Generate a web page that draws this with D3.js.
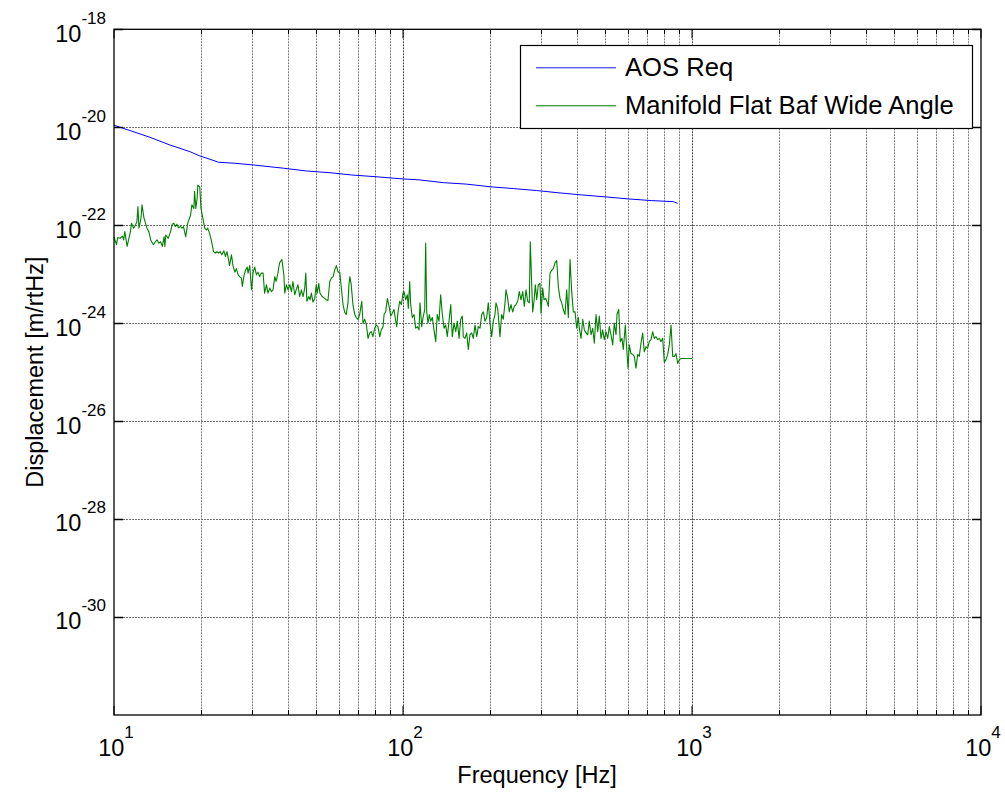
<!DOCTYPE html>
<html>
<head>
<meta charset="utf-8">
<script src="https://cdn.jsdelivr.net/npm/d3@7"></script>
<style>
  html, body { margin: 0; padding: 0; background: #fff; }
  svg { display: block; font-family: "Liberation Sans", Arial, sans-serif; }
</style>
</head>
<body>
<svg id="chart" width="1005" height="799"></svg>
<script>
// Axis ranges and tick labels
const xDomain = [10, 10000];
const yDomain = [1e-32, 1e-18];
const xMajorTicks = [10, 100, 1000, 10000];
const xTickExponents = ["1", "2", "3", "4"];
const yMajorTicks = [1e-18, 1e-20, 1e-22, 1e-24, 1e-26, 1e-28, 1e-30];
const yTickExponents = ["-18", "-20", "-22", "-24", "-26", "-28", "-30"];

const seriesNames = ["AOS Req", "Manifold Flat Baf Wide Angle"];

// AOS requirement curve
const reqFreq = [10, 11.4, 13.3, 15.6, 18.3, 19.8, 21.5, 23.0, 26.2, 30.3, 38.5, 46.4, 55.9, 66.4, 80.0,
  97.6, 114.5, 137.8, 166.1, 200, 240.9, 290.2, 344.7, 415.3, 500, 602, 725.5, 861.6, 892.4];
const reqValue = [1.1e-20, 8.5e-21, 6.25e-21, 4.35e-21, 3.18e-21, 2.6e-21, 2.22e-21, 1.93e-21, 1.84e-21,
  1.70e-21, 1.46e-21, 1.28e-21, 1.18e-21, 1.06e-21, 9.8e-22, 8.9e-22, 8.4e-22, 7.4e-22, 6.9e-22, 6.1e-22,
  5.6e-22, 5.1e-22, 4.6e-22, 4.15e-22, 3.8e-22, 3.44e-22, 3.18e-22, 3.03e-22, 2.8e-22];

// Measured spectrum: manifold flat baffle, wide angle
const bafFreq = [
  10, 10.2, 10.3, 10.5, 10.7, 10.8, 10.9, 11.1, 11.4, 11.5, 11.7, 11.9, 12.0, 12.1, 12.2, 12.4, 12.5, 12.7,
  12.8, 13.0, 13.2, 13.4, 13.5, 13.7, 13.9, 14.1, 14.3, 14.5, 14.7, 14.9, 15.0, 15.1, 15.4, 15.7, 15.9, 16.1,
  16.3, 16.5, 16.7, 17.0, 17.2, 17.4, 17.7, 18.0, 18.4, 18.6, 18.9, 19.0, 19.2, 19.4, 19.5, 19.8, 20.0, 20.3,
  20.6, 20.9, 21.1, 21.4, 21.7, 22.1, 22.4, 22.7, 23.0, 23.3, 23.6, 24.0, 24.3, 24.6, 24.9,
  25.1, 25.5, 25.8, 26.2, 26.5, 26.9, 27.2, 27.6, 27.8, 28.2, 28.5, 28.9, 29.1, 29.5, 29.9, 30.3, 30.7, 31.1,
  31.5, 31.9, 32.3, 32.8, 33.2, 33.7, 34.1, 34.6, 35.0, 35.5, 36.0, 36.4, 36.9, 37.4, 38.1, 38.7, 39.0, 39.5,
  40.0, 40.6, 41.1, 41.6, 42.2, 42.7, 43.3, 43.9, 44.5, 45.1, 45.7, 46.1, 46.5, 47.2, 47.7, 48.2, 48.8, 49.5,
  50.1, 50.5, 51.1, 51.6, 52.5, 53.6, 54.3, 55.0, 55.8, 56.5, 57.3, 58.0, 58.8, 59.6, 60.4, 61.2, 62.0, 62.8,
  63.6, 64.5,
  65.0, 65.5, 66.2, 67.1, 68.1, 68.9, 69.9, 70.8, 72.0, 72.7, 73.7, 74.7, 75.7, 76.7, 77.7, 78.7, 79.8, 80.8,
  81.9, 83.1, 84.1, 85.3, 86.0, 87.1, 88.3, 89.5, 90.7, 91.8, 93.1, 94.4, 95.1, 96.1, 97.4, 98.7, 100, 100.8,
  102.2, 103.5, 104.3, 105.5, 106.3, 107.7, 109.2, 110.6, 112.1, 113.6, 114.5, 116.1, 117.3, 118.9, 119.8,
  120.8, 122.0, 123.3, 124.7, 126.3, 128.0, 129.8, 131.4, 133.2, 135.0, 136.8, 138.7, 140.5, 142.3, 144.3,
  146.3, 148.1, 150.2, 152.2, 154.2, 156.3, 158.4, 160.4,
  161.7, 163.9, 166.1, 168.3, 170.5, 172.9, 175.1, 177.5, 179.9, 182.2, 184.7, 187.2, 189.6, 192.2, 194.8,
  197.3, 200.0, 202.7, 205.3, 208.1, 209.8, 212.6, 214.8, 216.5, 219.5, 222.3, 225.4, 227.2, 230.3, 233.2,
  236.4, 239.6, 242.7, 246.0, 249.4, 252.6, 256.0, 259.6, 262.9, 266.5, 270.1, 273.5, 275.7, 278.8, 281.1,
  284.0, 287.0, 290.2, 293.9, 297.9, 300.3, 304.4, 307.6, 311.8, 315.8, 318.3, 322.7, 327.1, 331.3, 335.7,
  340.3, 344.7, 349.4, 354.1, 358.7, 363.6, 368.5, 373.3, 378.4, 383.5, 388.5, 393.8, 399.1, 404.3,
  407.4, 413.0, 418.7, 424.0, 429.8, 435.7, 441.2, 447.3, 453.4, 459.2, 465.5, 471.8, 477.8, 484.3, 490.9,
  497.1, 504.0, 510.8, 517.4, 524.4, 531.6, 538.3, 545.8, 550.2, 557.7, 564.8, 572.5, 578.5, 587.8, 594.3,
  600.5, 606.7, 615.0, 623.4, 631.4, 640.0, 648.7, 657.0, 666.0, 675.1, 683.7, 693.0, 702.5, 711.5, 721.2,
  731.1, 740.4, 750.5, 760.8, 770.6, 781.1, 791.8, 802.0, 812.8, 824.0, 834.7, 846.0, 857.6, 868.7, 880.4,
  892.4, 903.9, 916.2, 1000];
const bafValue = [
  5.8e-23, 4.0e-23, 5.6e-23, 5.4e-23, 6.0e-23, 5.0e-23, 7.4e-23, 3.7e-23, 7.4e-23, 1.1e-22, 8.7e-23, 1.05e-22,
  1.2e-22, 2.4e-22, 8.7e-23, 1.4e-22, 2.6e-22, 1.4e-22, 1.2e-22, 8.7e-23, 7.4e-23, 5.0e-23, 4.6e-23, 4.0e-23,
  4.6e-23, 5.0e-23, 4.3e-23, 4.6e-23, 3.7e-23, 5.8e-23, 3.7e-23, 6.3e-23, 5.4e-23, 7.4e-23, 1.05e-22, 1.1e-22,
  9.4e-23, 1.05e-22, 8.9e-23, 9.4e-23, 8.7e-23, 9.4e-23, 5.8e-23, 1.1e-22, 1.6e-22, 2.6e-22, 2.2e-22, 4.9e-22,
  2.2e-22, 3.6e-22, 6.6e-22, 6.1e-22, 2.2e-22, 1.4e-22, 8.7e-23, 8.0e-23, 8.7e-23, 6.9e-23, 5.0e-23, 2.9e-23,
  2.7e-23, 2.9e-23, 2.7e-23, 2.9e-23, 2.5e-23, 3.0e-23, 2.3e-23, 2.9e-23, 2.0e-23,
  1.5e-23, 2.5e-23, 1.5e-23, 1.1e-23, 1.3e-23, 9.7e-24, 8.9e-24, 8.3e-24, 5.6e-24, 9.7e-24, 1.2e-23, 1.4e-23,
  1.05e-23, 1.5e-23, 4.8e-24, 1.1e-23, 1.4e-23, 9.7e-24, 1.1e-23, 8.9e-24, 1.05e-23, 1.05e-23, 4.1e-24, 6.1e-24,
  4.1e-24, 5.2e-24, 4.4e-24, 4.8e-24, 8.9e-24, 7.1e-24, 1.05e-23, 1.7e-23, 2.0e-23, 9.7e-24, 4.1e-24, 6.1e-24,
  4.8e-24, 6.1e-24, 4.4e-24, 7.1e-24, 3.8e-24, 4.8e-24, 6.1e-24, 3.5e-24, 4.8e-24, 3.5e-24, 5.2e-24, 1.05e-23,
  2.8e-24, 3.5e-24, 3.0e-24, 4.1e-24, 2.7e-24, 3.2e-24, 6.1e-24, 4.1e-24, 6.5e-24, 4.1e-24, 3.5e-24, 3.2e-24,
  3.0e-24, 2.9e-24, 7.1e-24, 8.3e-24, 8.9e-24, 1.2e-23, 1.5e-23, 1.1e-23, 1.1e-23, 5.2e-24, 2.4e-24, 1.7e-24,
  1.5e-24, 2.6e-24,
  6.1e-24, 8.9e-24, 6.1e-24, 2.4e-24, 1.5e-24, 1.3e-24, 1.2e-24, 1.5e-24, 2.8e-24, 1.0e-24, 1.2e-24, 9.2e-25,
  4.9e-25, 6.3e-25, 6.7e-25, 5.3e-25, 7.9e-25, 9.2e-25, 8.5e-25, 5.3e-25, 7.3e-25, 8.5e-25, 1.5e-24, 1.7e-24,
  3.2e-24, 2.2e-24, 1.4e-24, 1.6e-24, 1.9e-24, 1.1e-24, 8.5e-25, 1.7e-24, 2.8e-24, 2.4e-24, 4.1e-24, 4.4e-24,
  3.0e-24, 3.8e-24, 2.0e-24, 7.1e-24, 2.4e-24, 1.3e-24, 1.5e-24, 7.9e-25, 8.5e-25, 7.3e-25, 2.6e-24, 8.5e-25,
  1.3e-24, 1.9e-24, 4.3e-23, 1.7e-24, 1.0e-24, 1.5e-24, 1.1e-24, 1.3e-24, 7.3e-25, 4.2e-25, 1.5e-24, 1.1e-24,
  3.8e-24, 1.5e-24, 7.9e-25, 9.2e-25, 5.3e-25, 1.1e-24, 2.4e-24, 5.3e-25, 1.0e-24, 6.7e-25, 1.1e-24, 4.9e-25,
  1.2e-24, 1.4e-24,
  5.3e-25, 4.9e-25, 6.3e-25, 2.9e-25, 5.8e-25, 6.3e-25, 4.9e-25, 9.2e-25, 5.3e-25, 8.5e-25, 7.9e-25, 1.5e-24,
  1.7e-24, 1.1e-24, 1.3e-24, 2.6e-24, 1.0e-24, 5.3e-25, 1.1e-24, 1.5e-24, 2.6e-24, 2.0e-24, 1.0e-24, 5.3e-25,
  1.5e-24, 1.2e-24, 2.6e-24, 4.8e-24, 3.2e-24, 1.7e-24, 2.4e-24, 1.7e-24, 2.2e-24, 2.4e-24, 2.8e-24, 4.4e-24,
  3.0e-24, 4.4e-24, 2.2e-24, 4.8e-24, 2.8e-24, 2.6e-24, 4.6e-23, 6.1e-24, 1.7e-24, 2.8e-24, 6.1e-24, 3.0e-24,
  6.1e-24, 6.5e-24, 1.6e-24, 5.2e-24, 3.0e-24, 3.2e-24, 2.6e-24, 2.2e-24, 1.05e-23, 1.2e-23, 1.3e-23, 1.7e-23,
  1.9e-23, 5.6e-24, 3.2e-24, 2.6e-24, 1.9e-24, 1.5e-24, 4.8e-24, 1.3e-24, 2.0e-23, 4.4e-24, 1.7e-24, 1.7e-24,
  7.9e-25, 1.3e-24,
  7.9e-25, 4.9e-25, 1.2e-24, 7.3e-25, 6.3e-25, 5.8e-25, 1.1e-24, 5.8e-25, 7.9e-25, 3.9e-25, 1.5e-24, 6.7e-25,
  1.4e-24, 4.9e-25, 7.3e-25, 4.6e-25, 6.7e-25, 4.9e-25, 8.5e-25, 5.8e-25, 3.6e-25, 1.0e-24, 5.8e-25, 1.5e-24,
  1.9e-24, 4.2e-25, 4.9e-25, 2.9e-25, 9.2e-25, 3.1e-25, 1.2e-25, 3.6e-25, 2.4e-25, 2.3e-25, 2.1e-25, 1.2e-25,
  2.3e-25, 2.1e-25, 3.9e-25, 6.3e-25, 2.6e-25, 3.3e-25, 3.1e-25, 4.2e-25, 4.6e-25, 6.7e-25, 4.9e-25, 5.3e-25,
  4.6e-25, 4.9e-25, 4.2e-25, 4.9e-25, 1.6e-25, 1.8e-25, 2.3e-25, 3.6e-25, 9.2e-25, 2.1e-25, 2.1e-25, 2.4e-25,
  1.5e-25, 1.8e-25, 1.9e-25, 1.9e-25];

const reqData = reqFreq.map((f, i) => [f, reqValue[i]]);
const bafData = bafFreq.map((f, i) => [f, bafValue[i]]);

// Layout
const plot = { left: 114, right: 981, top: 29.3, bottom: 715 };
const seriesColors = ["#0000ff", "#008000"];
const legendColors = ["#5a5aff", "#4c9c4c"];
const labelFont = 23.5;
const expFont = 17;
const legendFont = 25.6;

const svg = d3.select("#chart");
svg.append("rect").attr("width", 1005).attr("height", 799).attr("fill", "#fff");

const x = d3.scaleLog().domain(xDomain).range([plot.left, plot.right]);
const y = d3.scaleLog().domain(yDomain).range([plot.bottom, plot.top]);

// Minor x positions: 1..9 times each decade
const xAllTicks = x.ticks(); // 10,20,...,90,100,...,10000
const xMinorTicks = xAllTicks.filter(t => !xMajorTicks.includes(t));

// Dotted grid
const grid = svg.append("g").attr("fill", "none");
grid.selectAll("line.grid-x").data(xAllTicks.filter(t => t > xDomain[0] && t < xDomain[1]))
  .join("line")
  .attr("class", "grid-x")
  .attr("x1", d => Math.round(x(d)) + 0.5).attr("x2", d => Math.round(x(d)) + 0.5)
  .attr("y1", plot.top).attr("y2", plot.bottom)
  .style("stroke", d => xMajorTicks.includes(d) ? "#4a4a4a" : "#7d7d7d")
  .style("stroke-width", 1)
  .style("stroke-dasharray", "2 1");
grid.selectAll("line.grid-y").data(yMajorTicks.filter(t => t < yDomain[1]))
  .join("line")
  .attr("class", "grid-y")
  .attr("x1", plot.left).attr("x2", plot.right)
  .attr("y1", d => Math.round(y(d)) + 0.5).attr("y2", d => Math.round(y(d)) + 0.5)
  .style("stroke", "#6e6e6e")
  .style("stroke-width", 1)
  .style("stroke-dasharray", "2 1");

// Series
const line = d3.line().x(d => x(d[0])).y(d => y(d[1]));
svg.append("path").datum(reqData).attr("d", line)
  .style("fill", "none").style("stroke", seriesColors[0]).style("stroke-width", 1);
svg.append("path").datum(bafData).attr("d", line)
  .style("fill", "none").style("stroke", seriesColors[1]).style("stroke-width", 1.1)
  .style("stroke-linejoin", "round");

// Axes box and inward ticks
const axes = svg.append("g").style("fill", "none").style("stroke", "#000");
axes.append("rect")
  .attr("x", plot.left).attr("y", plot.top)
  .attr("width", plot.right - plot.left).attr("height", plot.bottom - plot.top)
  .style("stroke-width", 1.3);

const majorLen = 9, minorLen = 5;
xMajorTicks.forEach(t => {
  const px = x(t);
  axes.append("line").attr("x1", px).attr("x2", px).attr("y1", plot.bottom).attr("y2", plot.bottom - majorLen);
  axes.append("line").attr("x1", px).attr("x2", px).attr("y1", plot.top).attr("y2", plot.top + majorLen);
});
xMinorTicks.forEach(t => {
  const px = Math.round(x(t)) + 0.5;
  axes.append("line").attr("x1", px).attr("x2", px).attr("y1", plot.bottom).attr("y2", plot.bottom - minorLen);
  axes.append("line").attr("x1", px).attr("x2", px).attr("y1", plot.top).attr("y2", plot.top + minorLen);
});
yMajorTicks.forEach(t => {
  const py = Math.round(y(t)) + 0.5;
  axes.append("line").attr("x1", plot.left).attr("x2", plot.left + majorLen).attr("y1", py).attr("y2", py)
    .style("stroke-width", 1.5);
  axes.append("line").attr("x1", plot.right).attr("x2", plot.right - majorLen).attr("y1", py).attr("y2", py)
    .style("stroke-width", 1.5);
});

// Tick labels: base 10 with superscript exponent
const labels = svg.append("g").style("fill", "#000");
yMajorTicks.forEach((t, i) => {
  const txt = labels.append("text")
    .attr("x", 106).attr("y", y(t) + 12.4)
    .attr("text-anchor", "end")
    .attr("font-size", labelFont);
  txt.append("tspan").text("10");
  txt.append("tspan").attr("dy", -18).attr("font-size", expFont).text(yTickExponents[i]);
});
xMajorTicks.forEach((t, i) => {
  const txt = labels.append("text")
    .attr("x", x(t) + 2).attr("y", 756)
    .attr("text-anchor", "middle")
    .attr("font-size", labelFont);
  txt.append("tspan").text("10");
  txt.append("tspan").attr("dy", -18).attr("font-size", expFont).text(xTickExponents[i]);
});

// Axis titles
labels.append("text")
  .attr("x", 537).attr("y", 783)
  .attr("text-anchor", "middle")
  .attr("font-size", labelFont)
  .text("Frequency [Hz]");
labels.append("text")
  .attr("transform", `translate(43, ${(plot.top + plot.bottom) / 2}) rotate(-90)`)
  .attr("text-anchor", "middle")
  .attr("font-size", labelFont)
  .text("Displacement [m/rtHz]");

// Legend
const legend = svg.append("g");
legend.append("rect")
  .attr("x", 520.5).attr("y", 45.5).attr("width", 452).attr("height", 83)
  .style("fill", "#fff").style("stroke", "#000").style("stroke-width", 1.2);
const legendY = [67, 105];
seriesNames.forEach((name, i) => {
  // swatch drawn as a thin filled bar in the series colour
  legend.append("rect")
    .attr("x", 536).attr("y", legendY[i]).attr("width", 80).attr("height", 1.4)
    .style("fill", legendColors[i]).style("stroke", "none");
  legend.append("text").attr("x", 625).attr("y", legendY[i] + 9.3)
    .attr("font-size", legendFont).style("fill", "#000").text(name);
});
</script>
</body>
</html>
